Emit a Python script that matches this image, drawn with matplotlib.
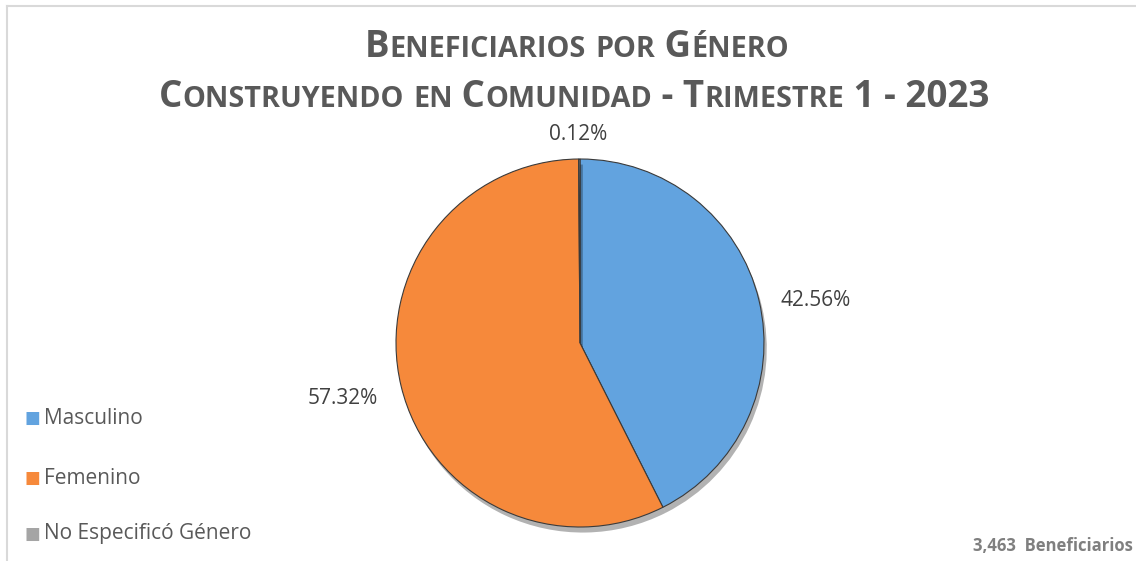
import matplotlib
matplotlib.use("Agg")
import matplotlib.pyplot as plt
from matplotlib import patheffects as pe
from matplotlib.lines import Line2D

categories = ["Masculino", "Femenino", "No Especificó Género"]
values = [42.56, 57.32, 0.12]
labels_txt = ["42.56%", "57.32%", "0.12%"]
colors = ["#62A3DF", "#F6893B", "#A5A5A5"]
title1 = "Beneficiarios por Género"
title2 = "Construyendo en Comunidad - Trimestre 1 - 2023"
footer = "3,463  Beneficiarios"

W, H = 1136, 561
fig = plt.figure(figsize=(W / 100, H / 100), dpi=100)
fig.patch.set_facecolor("white")

FONT = "Open Sans"
TXT = "#595959"

# frame lines (top & left)
fig.add_artist(Line2D([7 / W, 1], [1 - 6 / H, 1 - 6 / H], color="#D9D9D9", lw=1.5))
fig.add_artist(Line2D([7 / W, 7 / W], [0, 1 - 6 / H], color="#D9D9D9", lw=1.5))

# pie
cx, cy, r = 580, 343, 184
ax = fig.add_axes([(cx - r) / W, 1 - (cy + r) / H, 2 * r / W, 2 * r / H])
wedges, _ = ax.pie(values, colors=colors, startangle=90, counterclock=False,
                   wedgeprops=dict(edgecolor="#3A3A3A", linewidth=0.8))
for w in wedges:
    w.set_path_effects([pe.SimplePatchShadow(offset=(2, -4), shadow_rgbFace="#000000", alpha=0.3),
                        pe.Normal()])
ax.set_xlim(-1, 1)
ax.set_ylim(-1, 1)
ax.set_aspect("equal")
ax.axis("off")

# data labels
label_pos = [(816, 300), (343, 398), (578, 135)]
for (x, y), t in zip(label_pos, labels_txt):
    fig.text(x / W, 1 - y / H, t, ha="center", va="center", fontsize=15,
             color="#404040", family=FONT)

# small caps title helper
renderer = fig.canvas.get_renderer()

def small_caps(text, xc, yc, big, small_ratio=0.78):
    runs = []
    for ch in text:
        is_big = not ch.islower()
        if runs and runs[-1][1] == is_big:
            runs[-1][0] += ch
        else:
            runs.append([ch, is_big])
    items = []
    total = 0
    for s, is_big in runs:
        fs = big if is_big else big * small_ratio
        t = fig.text(0, 0, s.upper(), fontsize=fs, fontweight="bold", family=FONT,
                     color=TXT, ha="left", va="baseline")
        bb = t.get_window_extent(renderer)
        items.append((t, bb.width))
        total += bb.width
    x = xc - total / 2
    for t, wdt in items:
        t.set_position((x / W, 1 - yc / H))
        x += wdt

small_caps(title1, 577, 57, 26.5)
small_caps(title2, 574, 107, 26.5)

# legend
leg_y = [418, 478, 534]
for y, c, name in zip(leg_y, colors, categories):
    fig.text(24 / W, 1 - y / H, "\u25A0", color=c, fontsize=12, ha="left", va="center",
             family="DejaVu Sans")
    fig.text(44 / W, 1 - y / H, name, color=TXT, fontsize=15, ha="left", va="center",
             family=FONT)

# footer
fig.text(1133 / W, 1 - 546 / H, footer, color="#7F7F7F", fontsize=12, fontweight="bold",
         ha="right", va="center", family=FONT)

fig.savefig("out.png", dpi=100, facecolor="white")
